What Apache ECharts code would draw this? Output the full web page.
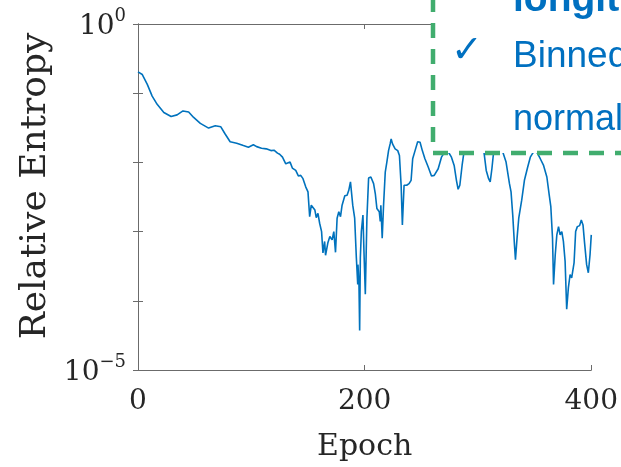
<!DOCTYPE html>
<html>
<head>
<meta charset="utf-8">
<script src="https://cdn.jsdelivr.net/npm/echarts@6/dist/echarts.min.js"></script>
<style>html,body{margin:0;padding:0;background:#fff;}#c{width:621px;height:467px;}</style>
</head>
<body>
<div id="c"></div>
<script>
// Epoch values of the traced points
var epochs = [0,3.8,8.2,12.5,16.9,22.8,29.2,34.5,39.7,44.7,49.1,55.0,62.3,68.2,73.1,76.9,81.3,87.1,93.0,97.4,101.8,104.7,109.0,113.2,117.3,120.0,123.1,125.0,127.5,130.4,134.2,136.2,139.2,141.5,143.6,145.6,148.0,150.0,151.5,152.9,154.6,156.1,157.3,158.8,160.3,162.0,163.2,164.7,165.5,167.5,169.3,171.3,172.8,174.3,175.7,177.2,178.7,180.1,182.5,184.5,186.0,187.5,189.5,191.2,192.7,193.9,194.1,195.0,195.6,196.2,197.1,198.5,199.4,200.6,202.0,203.5,205.5,207.9,209.4,210.8,212.9,213.8,214.3,215.5,216.7,218.2,219.6,221.1,222.5,223.4,224.6,226.9,229.2,230.7,232.2,233.3,234.8,237.1,239.2,241.0,242.4,244.5,246.8,248.9,250.9,253.2,256.1,259.0,261.4,264.9,267.8,270.2,271.9,274.0,276.6,279.0,281.0,282.5,284.0,286.0,287.7,293.0,298.2,303.5,305.3,307.3,309.4,310.8,312.3,313.8,317.5,321.9,324.8,327.8,329.2,330.7,332.2,333.1,334.5,336.0,338.6,341.0,343.9,346.2,348.5,350.4,352.3,355.0,357.9,360.8,362.9,364.3,365.8,366.7,368.2,369.6,371.1,372.5,374.0,375.4,376.9,378.3,379.8,381.3,382.7,384.8,386.2,387.7,389.7,391.2,392.7,394.1,395.9,397.4,398.9,400];
// Relative entropy values at those epochs
var entropy = [0.203,0.186,0.134,0.0908,0.0691,0.0526,0.0461,0.0486,0.0554,0.0536,0.0446,0.0366,0.0313,0.0338,0.0327,0.0257,0.0199,0.0189,0.0175,0.0166,0.0180,0.0169,0.0160,0.0157,0.0148,0.0150,0.0136,0.0131,0.0119,0.00955,0.0101,0.00828,0.00765,0.00637,0.00649,0.00582,0.00443,0.00375,0.00164,0.00241,0.00255,0.00205,0.00159,0.00184,0.00132,0.00100,0.000491,0.000721,0.000455,0.000682,0.000851,0.000760,0.00100,0.000502,0.00156,0.00194,0.00164,0.00241,0.00329,0.00336,0.00395,0.00522,0.00241,0.00156,0.000416,0.000172,0.000333,0.000172,0.0000371,0.000416,0.00100,0.00173,0.000519,0.000124,0.00156,0.00596,0.00615,0.00493,0.00355,0.00216,0.00194,0.00140,0.00241,0.000804,0.00241,0.00726,0.0101,0.0148,0.0185,0.0218,0.0185,0.0157,0.0148,0.0126,0.00467,0.00125,0.00467,0.00467,0.00493,0.00551,0.0113,0.0148,0.0199,0.0195,0.0148,0.0113,0.00857,0.00637,0.00649,0.00809,0.0119,0.0137,0.0157,0.0140,0.0119,0.00903,0.00551,0.00409,0.00467,0.00903,0.0143,0.0218,0.0257,0.0185,0.0141,0.00765,0.00582,0.00522,0.00809,0.0141,0.0218,0.0141,0.0101,0.00493,0.00375,0.00173,0.000645,0.000393,0.000804,0.00156,0.00284,0.00551,0.00857,0.0119,0.0137,0.0152,0.0137,0.0113,0.00903,0.00615,0.00336,0.00229,0.000804,0.000172,0.000463,0.000897,0.00118,0.000897,0.00100,0.000721,0.000373,0.0000755,0.000155,0.000240,0.000215,0.000352,0.00100,0.00118,0.00122,0.00147,0.00125,0.000682,0.000333,0.000254,0.000463,0.000897];
var xTicks = [0, 200, 400];
var yLabelText = 'Relative Entropy';
var xLabelText = 'Epoch';
var boxLines = ['longitudinal', 'Binned', 'normal'];

var chart = echarts.init(document.getElementById('c'), null, {renderer: 'canvas'});
var seriesData = epochs.map(function (e, i) { return [e, entropy[i]]; });
var axisCol = '#6b6b6b';
var txtCol = '#262626';
var serif = 'DejaVu Serif';
function yFmt(v) {
  var p = Math.round(Math.log10(v));
  if (p === 0) return '{b|10}{s|0}';
  if (p === -5) return '{b|10}{s|\u22125}';
  return '';
}
var option = {
  backgroundColor: '#fff',
  animation: false,
  grid: {left: 138, top: 24, width: 456, height: 349, containLabel: false},
  xAxis: [{
    type: 'value', min: 0, max: 400, interval: 200, position: 'bottom',
    axisLine: {show: true, lineStyle: {color: axisCol, width: 1}},
    axisTick: {show: true, inside: true, length: 5, lineStyle: {color: axisCol}},
    splitLine: {show: false},
    axisLabel: {color: txtCol, fontFamily: serif, fontSize: 28, margin: 18,
      formatter: function (v) { return xTicks.indexOf(v) >= 0 ? String(v) : ''; }},
    name: xLabelText, nameLocation: 'middle', nameGap: 62,
    nameTextStyle: {color: txtCol, fontFamily: serif, fontSize: 30}
  }, {
    type: 'value', min: 0, max: 400, interval: 200, position: 'top',
    axisLine: {show: true, lineStyle: {color: axisCol, width: 1}},
    axisTick: {show: true, inside: true, length: 5, lineStyle: {color: axisCol}},
    splitLine: {show: false}, axisLabel: {show: false}
  }],
  yAxis: [{
    type: 'log', logBase: 10, min: 1e-5, max: 1, interval: 1, position: 'left',
    axisLine: {show: true, lineStyle: {color: axisCol, width: 1}},
    axisTick: {show: true, inside: true, length: 5, lineStyle: {color: axisCol}},
    splitLine: {show: false}, minorTick: {show: false},
    axisLabel: {margin: 12, formatter: yFmt, rich: {
      b: {fontFamily: serif, fontSize: 28, color: txtCol, lineHeight: 34, verticalAlign: 'bottom'},
      s: {fontFamily: serif, fontSize: 18, color: txtCol, lineHeight: 18, verticalAlign: 'top'}
    }}
  }, {
    type: 'log', logBase: 10, min: 1e-5, max: 1, interval: 1, position: 'right',
    axisLine: {show: true, lineStyle: {color: axisCol, width: 1}},
    axisTick: {show: true, inside: true, length: 5, lineStyle: {color: axisCol}},
    splitLine: {show: false}, axisLabel: {show: false}
  }],
  series: [{
    type: 'line', xAxisIndex: 0, yAxisIndex: 0, data: seriesData,
    showSymbol: false, symbol: 'none', smooth: false,
    lineStyle: {color: '#0072BD', width: 1.6}, z: 2
  }],
  graphic: [
    {type: 'text', x: 36, y: 186, rotation: Math.PI / 2, z: 10,
      style: {text: yLabelText, fill: txtCol, font: '36px "DejaVu Serif"', align: 'center', verticalAlign: 'middle'}},
    {type: 'rect', z: 100, shape: {x: 433, y: -20, width: 220, height: 173},
      style: {fill: '#fff', stroke: '#41AD6E', lineWidth: 4.5, lineDash: [15, 11]}},
    {type: 'text', x: 513, y: 0, z: 101,
      style: {text: boxLines[0], fill: '#0070C0', font: 'bold 39px "Liberation Sans"', align: 'left', verticalAlign: 'middle'}},
    {type: 'text', x: 467, y: 52, z: 101,
      style: {text: '\u2713', fill: '#0070C0', font: '38px "DejaVu Sans"', align: 'center', verticalAlign: 'middle'}},
    {type: 'text', x: 513, y: 57, z: 101,
      style: {text: boxLines[1], fill: '#0070C0', font: '37px "Liberation Sans"', align: 'left', verticalAlign: 'middle'}},
    {type: 'text', x: 513, y: 120, z: 101,
      style: {text: boxLines[2], fill: '#0070C0', font: '36px "Liberation Sans"', align: 'left', verticalAlign: 'middle'}}
  ]
};
chart.setOption(option);
</script>
</body>
</html>
